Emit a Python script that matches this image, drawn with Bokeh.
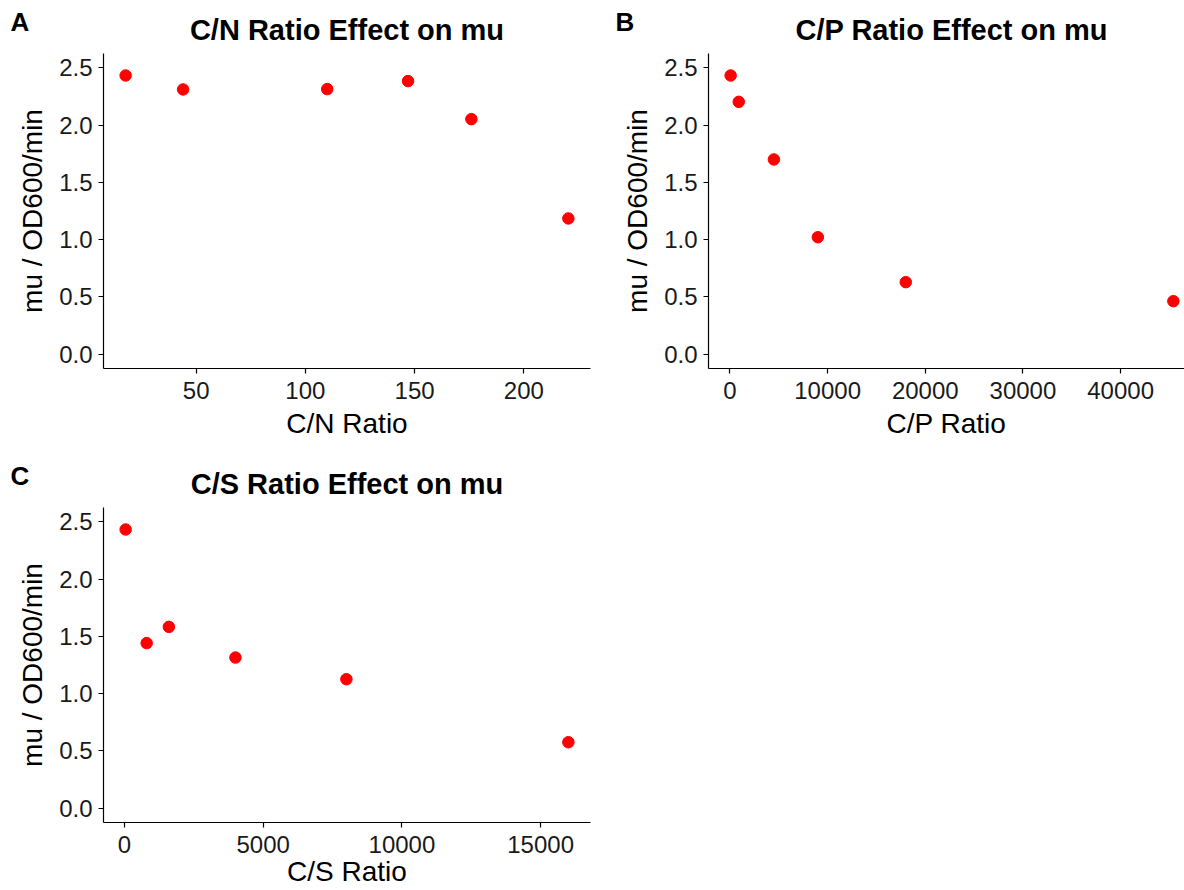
from bokeh.plotting import figure
from bokeh.layouts import column, row
from bokeh.models import Range1d, FixedTicker, NumeralTickFormatter, Title
from bokeh.embed import file_html
from bokeh.resources import INLINE

# Growth rate (mu) against nutrient ratios
cn_ratio = [17.7, 44, 110, 147, 176, 220.4]
cn_mu = [2.433, 2.311, 2.314, 2.384, 2.052, 1.185]

cp_ratio = [70, 900, 4500, 9000, 18000, 45400]
cp_mu = [2.433, 2.203, 1.700, 1.021, 0.629, 0.463]

cs_ratio = [42, 800, 1600, 4000, 8000, 16000]
cs_mu = [2.433, 1.441, 1.583, 1.315, 1.126, 0.576]

cn_ticks = [50, 100, 150, 200]
cp_ticks = [0, 10000, 20000, 30000, 40000]
cs_ticks = [0, 5000, 10000, 15000]
mu_ticks = [0.0, 0.5, 1.0, 1.5, 2.0, 2.5]
mu_limits = (0.0, 2.5)

FONT = "Liberation Sans"
FRAME_W = 487
FRAME_H = 315
LEFT = 103
TOP = 53
TITLE_W = 313  # approximate rendered width of a panel heading


def expanded(lo, hi, frac=0.05):
    pad = (hi - lo) * frac
    return lo - pad, hi + pad


def panel(xs, ys, xticks, letter, title, xlabel, bottom, right=15,
          frame_w=FRAME_W, xlabel_as_title=False):
    x0, x1 = expanded(min(xs), max(xs))
    # a narrower frame shows only the left part of the full expanded range
    x1 = x0 + (x1 - x0) * frame_w / FRAME_W
    y0, y1 = expanded(*mu_limits)
    p = figure(frame_width=frame_w, frame_height=FRAME_H,
               min_border_left=LEFT, min_border_right=right,
               min_border_top=TOP, min_border_bottom=bottom,
               x_range=Range1d(x0, x1), y_range=Range1d(y0, y1),
               output_backend="svg", toolbar_location=None,
               outline_line_color=None, background_fill_color="white",
               border_fill_color="white")
    p.title_location = None
    p.grid.visible = False
    for ax in (p.xaxis[0], p.yaxis[0]):
        ax.axis_line_color = "black"
        ax.axis_line_width = 1.2
        ax.major_tick_line_color = "black"
        ax.major_tick_line_width = 1.2
        ax.major_tick_out = 5
        ax.major_tick_in = 0
        ax.minor_tick_line_color = None
        ax.major_label_text_font = FONT
        ax.major_label_text_font_size = "24px"
        ax.major_label_text_color = "#1a1a1a"
        ax.axis_label_text_font = FONT
        ax.axis_label_text_font_size = "28px"
        ax.axis_label_text_font_style = "normal"
        ax.axis_label_text_color = "black"
    p.xaxis.ticker = FixedTicker(ticks=xticks)
    p.yaxis.ticker = FixedTicker(ticks=mu_ticks)
    p.yaxis.formatter = NumeralTickFormatter(format="0.0")
    p.xaxis.major_label_standoff = 8
    p.yaxis.major_label_standoff = 6
    p.yaxis.axis_label = "mu / OD600/min"
    p.yaxis.axis_label_standoff = 8

    if xlabel_as_title:
        # bottom strip is tight here: the x title sits in its own slot
        p.add_layout(Title(text=xlabel, align="center", standoff=-4,
                           text_font=FONT, text_font_size="28px",
                           text_font_style="normal", text_color="black"),
                     "below")
    else:
        p.xaxis.axis_label = xlabel
        p.xaxis.axis_label_standoff = 6

    p.scatter(xs, ys, size=11.5, color="#ff0000", line_color="#ff0000")

    # chart title next to the frame, panel tag pulled down onto the same line
    head = Title(text=title, align="center", standoff=16,
                 text_font=FONT, text_font_size="29px",
                 text_font_style="bold", text_color="black")
    if frame_w != FRAME_W:
        head.align = "left"
        head.offset = (FRAME_W - TITLE_W) / 2
    p.add_layout(head, "above")
    tag = Title(text=letter, align="left", offset=-93, standoff=-66,
                text_font=FONT, text_font_size="26px", text_font_style="bold",
                text_color="black")
    p.add_layout(tag, "above")
    return p


pa = panel(cn_ratio, cn_mu, cn_ticks, "A", "C/N Ratio Effect on mu", "C/N Ratio",
           bottom=86)
pb = panel(cp_ratio, cp_mu, cp_ticks, "B", "C/P Ratio Effect on mu", "C/P Ratio",
           bottom=86, right=0, frame_w=1184 - (LEFT + FRAME_W + 15) - LEFT)
pc = panel(cs_ratio, cs_mu, cs_ticks, "C", "C/S Ratio Effect on mu", "C/S Ratio",
           bottom=68, xlabel_as_title=True)

layout = column(row(pa, pb), pc)
open("out.html", "w").write(file_html(layout, INLINE))
